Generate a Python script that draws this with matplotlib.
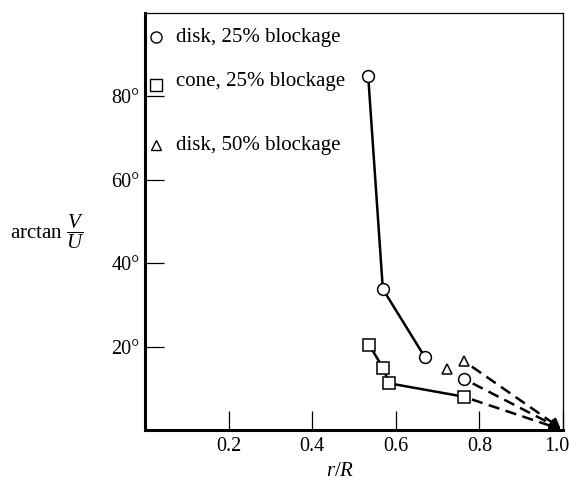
import matplotlib
matplotlib.use("Agg")
import matplotlib.pyplot as plt
from matplotlib.transforms import ScaledTranslation

plt.rcParams['font.family'] = ['Liberation Serif', 'DejaVu Serif']
plt.rcParams['mathtext.fontset'] = 'custom'
plt.rcParams['mathtext.rm'] = 'Liberation Serif'
plt.rcParams['mathtext.it'] = 'Liberation Serif:italic'

# data (r/R, arctan V/U in degrees)
disk25_r = [0.534, 0.569, 0.670]
disk25_a = [84.8, 33.8, 17.4]
disk25_end_r = [0.764]
disk25_end_a = [12.2]

cone25_r = [0.537, 0.570, 0.584, 0.762]
cone25_a = [20.3, 14.8, 11.2, 8.0]

disk50_r = [0.722, 0.762]
disk50_a = [14.6, 16.6]

# dashed extrapolations to the wall (r/R = 1, angle 0)
extrap_r = [0.762, 0.764, 0.762]
extrap_a = [16.6, 12.2, 8.0]

xticks = [0.2, 0.4, 0.6, 0.8, 1.0]
yticks = [20, 40, 60, 80]

fig = plt.figure(figsize=(5.71, 4.88), dpi=100)
ax = fig.add_axes([145/571, 58/488, 418/571, 417/488])

lw = 1.8
# dashed lines to the corner, with arrow tip
for r0, a0 in zip(extrap_r, extrap_a):
    r1 = r0 + 0.93 * (1.0 - r0)
    a1 = a0 * 0.07
    ax.plot([r0 + 0.02, r1], [a0 - 0.02 * a0 / (1 - r0), a1], color='black',
            lw=lw, ls=(0, (4.5, 2.6)), clip_on=False, zorder=2)
    ax.annotate('', xy=(0.995, 0.15), xytext=(r1, a1),
                arrowprops=dict(arrowstyle='-|>,head_length=0.6,head_width=0.3',
                                color='black', lw=lw, shrinkA=0, shrinkB=0),
                annotation_clip=False, zorder=2)

ax.plot(disk25_r, disk25_a, color='black', lw=lw, marker='o', ms=8.5,
        mfc='white', mec='black', mew=1.1, zorder=3)
ax.plot(disk25_end_r, disk25_end_a, ls='none', marker='o', ms=8.5,
        mfc='white', mec='black', mew=1.1, zorder=3)
ax.plot(cone25_r, cone25_a, color='black', lw=lw, marker='s', ms=8.5,
        mfc='white', mec='black', mew=1.1, zorder=3)
ax.plot(disk50_r, disk50_a, ls='none', marker='^', ms=7.5,
        mfc='white', mec='black', mew=1.1, zorder=3)

ax.set_xlim(0, 1.0)
ax.set_ylim(0, 100)
ax.set_xticks(xticks)
ax.set_xticklabels(['0.2', '0.4', '0.6', '0.8', '1.0'])
ax.set_yticks(yticks)
ax.set_yticklabels([f'{t}°' for t in yticks])
ax.tick_params(direction='in', length=14, width=0.9, labelsize=14.5)
ax.tick_params(axis='x', pad=5)
ax.tick_params(axis='y', pad=4)

# keep "1.0" inside the figure
last = ax.get_xticklabels()[-1]
last.set_transform(last.get_transform() + ScaledTranslation(-6/100, 0, fig.dpi_scale_trans))

for side in ['left', 'bottom']:
    ax.spines[side].set_linewidth(2.2)
for side in ['top', 'right']:
    ax.spines[side].set_linewidth(0.9)

# legend drawn by hand
leg = [('o', 8, 0.942, 0.942, 'disk, 25% blockage'),
       ('s', 8, 0.828, 0.836, 'cone, 25% blockage'),
       ('^', 7, 0.683, 0.683, 'disk, 50% blockage')]
for m, s, ym, yt, txt in leg:
    ax.plot([0.026], [ym], transform=ax.transAxes, marker=m, ms=s,
            mfc='white', mec='black', mew=1.0, ls='none', clip_on=False)
    ax.text(0.075, yt, txt, transform=ax.transAxes, va='center', ha='left',
            fontsize=15)

fig.text(10/571, 1 - 232/488, r'arctan $\dfrac{V}{U}$', va='center', ha='left',
         fontsize=15)
fig.text(340/571, 1 - 472/488, r'$r/R$', va='center', ha='center', fontsize=15)

fig.savefig('out.png', dpi=100)
